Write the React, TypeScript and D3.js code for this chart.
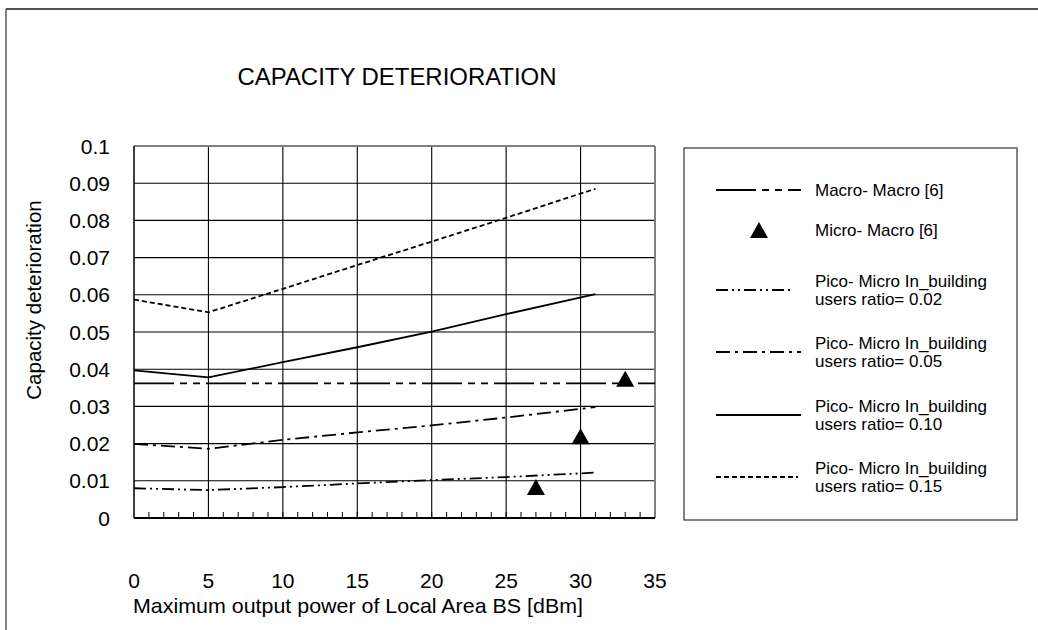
import React from "react";
import * as d3 from "d3";

const xTicks = [0, 5, 10, 15, 20, 25, 30, 35];
const yTicks = [0, 0.01, 0.02, 0.03, 0.04, 0.05, 0.06, 0.07, 0.08, 0.09, 0.1];
const yTickLabels = ["0", "0.01", "0.02", "0.03", "0.04", "0.05", "0.06", "0.07", "0.08", "0.09", "0.1"];

const macroX = [0, 35];
const macroMacro = [0.0362, 0.0362];

const microX = [27, 30, 33];
const microMacro = [0.0083, 0.022, 0.0374];

const picoX = [0, 5, 10, 15, 20, 25, 31];
const pico002 = [0.008, 0.0075, 0.0083, 0.0093, 0.0102, 0.011, 0.0122];
const pico005 = [0.0199, 0.0186, 0.021, 0.023, 0.0249, 0.027, 0.0298];
const pico010 = [0.0397, 0.0378, 0.0419, 0.0459, 0.0501, 0.0548, 0.0602];
const pico015 = [0.0587, 0.0553, 0.0616, 0.068, 0.0743, 0.0807, 0.0885];

const legendLabels = [
  ["Macro- Macro [6]"],
  ["Micro- Macro [6]"],
  ["Pico- Micro In_building", "users ratio= 0.02"],
  ["Pico- Micro In_building", "users ratio= 0.05"],
  ["Pico- Micro In_building", "users ratio= 0.10"],
  ["Pico- Micro In_building", "users ratio= 0.15"],
];

const FONT = "'Liberation Sans', Arial, sans-serif";

export default function App() {
  const left = 134, right = 655, top = 146, bottom = 518;
  const x = d3.scaleLinear().domain([0, 35]).range([left, right]);
  const y = d3.scaleLinear().domain([0, 0.1]).range([bottom, top]);
  const line = d3.line<[number, number]>().x((d) => x(d[0])).y((d) => y(d[1]));
  const pts = (xs: number[], ys: number[]) => xs.map((v, i) => [v, ys[i]] as [number, number]);

  const minor = d3.range(1, 35);
  const dashMacro = "40,6,7,6,7,6";
  const dash002 = "12,4,2,4,2,4";
  const dash005 = "14,5,3,5";
  const dash015 = "5,3";

  const tri = (cx: number, cy: number, w = 18, h = 16) =>
    `M${cx},${cy - h / 2}L${cx + w / 2},${cy + h / 2}L${cx - w / 2},${cy + h / 2}Z`;

  // legend
  const lgX1 = 716, lgX2 = 801, lgTx = 815;
  const lgRows = [190, 230, 290, 352, 415, 477];

  return (
    <svg width={1038} height={630} style={{ position: "absolute", left: 0, top: 0, background: "#fff" }} fontFamily={FONT}>
      {/* outer frame */}
      <line x1={6} y1={9} x2={1038} y2={9} stroke="#555" strokeWidth={2} />
      <line x1={6} y1={9} x2={6} y2={630} stroke="#333" strokeWidth={1.2} />

      <text x={397} y={85} fontSize={24} textAnchor="middle" fill="#000" textLength={319} lengthAdjust="spacingAndGlyphs">
        CAPACITY DETERIORATION
      </text>

      {/* grid */}
      {yTicks.slice(1, -1).map((t) => (
        <line key={"gy" + t} x1={left} x2={right} y1={y(t)} y2={y(t)} stroke="#000" strokeWidth={1.1} />
      ))}
      {xTicks.slice(1, -1).map((t) => (
        <line key={"gx" + t} x1={x(t)} x2={x(t)} y1={top} y2={bottom} stroke="#000" strokeWidth={1.1} />
      ))}
      {/* minor ticks */}
      {minor.map((t) => (
        <line key={"mt" + t} x1={x(t)} x2={x(t)} y1={bottom} y2={bottom - 6} stroke="#000" strokeWidth={1} />
      ))}
      {/* plot frame */}
      <line x1={left} x2={right} y1={top} y2={top} stroke="#808080" strokeWidth={2} />
      <line x1={right} x2={right} y1={top} y2={bottom} stroke="#808080" strokeWidth={2} />
      <line x1={left} x2={left} y1={top} y2={bottom} stroke="#000" strokeWidth={1.5} />
      <line x1={left} x2={right} y1={bottom} y2={bottom} stroke="#000" strokeWidth={2} />

      {/* series */}
      <path d={line(pts(macroX, macroMacro)) || ""} fill="none" stroke="#000" strokeWidth={1.8} strokeDasharray={dashMacro} />
      <path d={line(pts(picoX, pico002)) || ""} fill="none" stroke="#000" strokeWidth={1.8} strokeDasharray={dash002} />
      <path d={line(pts(picoX, pico005)) || ""} fill="none" stroke="#000" strokeWidth={1.8} strokeDasharray={dash005} />
      <path d={line(pts(picoX, pico010)) || ""} fill="none" stroke="#000" strokeWidth={1.8} />
      <path d={line(pts(picoX, pico015)) || ""} fill="none" stroke="#000" strokeWidth={1.8} strokeDasharray={dash015} />
      {microX.map((v, i) => (
        <path key={"tr" + i} d={tri(x(v), y(microMacro[i]))} fill="#000" />
      ))}

      {/* axes labels */}
      {yTicks.map((t, i) => (
        <text key={"yl" + t} x={110} y={y(t)} dy="0.36em" fontSize={21} textAnchor="end" fill="#000">
          {yTickLabels[i]}
        </text>
      ))}
      {xTicks.map((t) => (
        <text key={"xl" + t} x={x(t)} y={588} fontSize={21} textAnchor="middle" fill="#000">
          {t}
        </text>
      ))}
      <text x={358} y={613} fontSize={21} textAnchor="middle" fill="#000" textLength={450} lengthAdjust="spacingAndGlyphs">
        Maximum output power of Local Area BS [dBm]
      </text>
      <text transform="translate(41,300) rotate(-90)" fontSize={20.5} textAnchor="middle" fill="#000">
        Capacity deterioration
      </text>

      {/* legend */}
      <rect x={684} y={148} width={333} height={372} fill="#fff" stroke="#333" strokeWidth={1.2} />
      <line x1={lgX1} x2={lgX2} y1={lgRows[0]} y2={lgRows[0]} stroke="#000" strokeWidth={1.8} strokeDasharray={dashMacro} />
      <path d={tri(759, lgRows[1])} fill="#000" />
      <line x1={lgX1} x2={lgX2 - 8} y1={lgRows[2]} y2={lgRows[2]} stroke="#000" strokeWidth={1.8} strokeDasharray={dash002} />
      <line x1={lgX1} x2={lgX2} y1={lgRows[3]} y2={lgRows[3]} stroke="#000" strokeWidth={1.8} strokeDasharray={dash005} />
      <line x1={lgX1} x2={lgX2} y1={lgRows[4]} y2={lgRows[4]} stroke="#000" strokeWidth={1.8} />
      <line x1={lgX1} x2={lgX2 - 3} y1={lgRows[5]} y2={lgRows[5]} stroke="#000" strokeWidth={1.8} strokeDasharray={dash015} />
      {legendLabels.map((lines, i) =>
        lines.length === 1 ? (
          <text key={"lg" + i} x={lgTx} y={lgRows[i]} dy="0.36em" fontSize={17} fill="#000">
            {lines[0]}
          </text>
        ) : (
          <text key={"lg" + i} x={lgTx} y={lgRows[i]} fontSize={17} fill="#000">
            <tspan x={lgTx} dy="-0.2em">{lines[0]}</tspan>
            <tspan x={lgTx} dy="1.08em">{lines[1]}</tspan>
          </text>
        )
      )}
    </svg>
  );
}
